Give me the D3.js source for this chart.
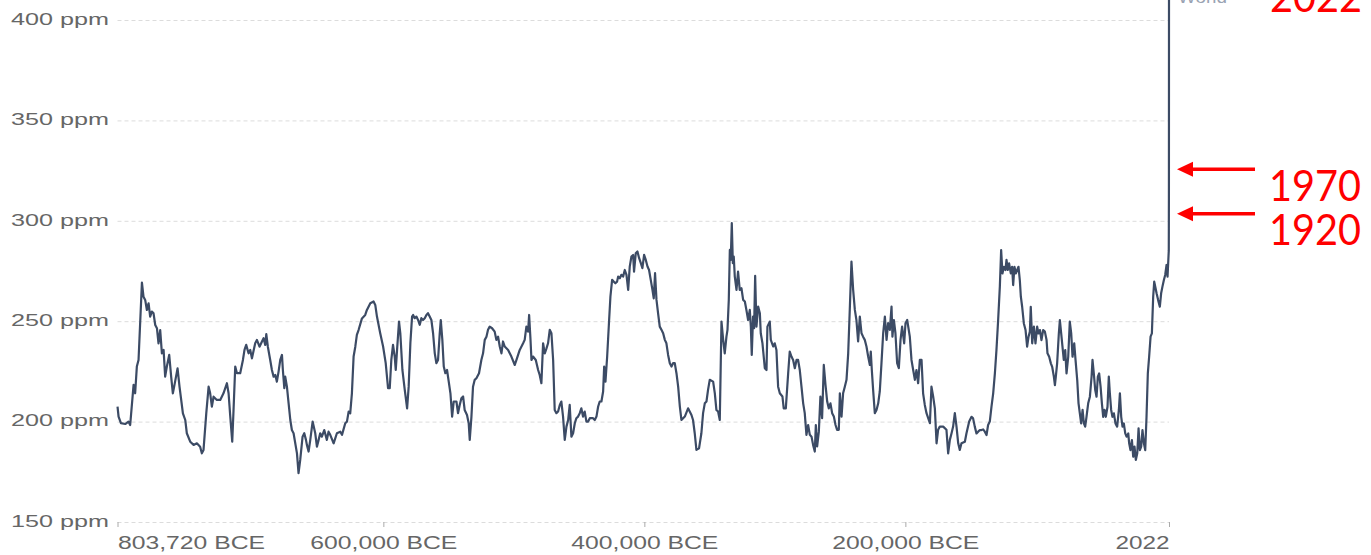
<!DOCTYPE html>
<html>
<head>
<meta charset="utf-8">
<script src="https://cdn.jsdelivr.net/npm/d3@7/dist/d3.min.js"></script>
<style>
	body { margin: 0; background: #fff; }
	svg { display: block; }
</style>
</head>
<body>
<svg id="chart"></svg>
<script>
// CO2 concentration, World (ppm). Years are in thousands, negative = BCE.
var yearK = [
	-803.7,-802.9,-801.1,-797.8,-795.3,-794.0,-791.4,-790.2,-788.9,-787.6,
	-785.0,-783.8,-782.5,-781.2,-779.9,-778.7,-777.4,-776.1,-774.8,-773.5,
	-772.3,-771.0,-769.7,-768.4,-767.2,-765.9,-764.1,-762.6,-761.3,-760.3,
	-757.7,-756.2,-753.6,-751.8,-750.6,-748.0,-745.4,-742.9,-740.4,-739.1,
	-737.8,-735.7,-733.9,-732.7,-731.4,-730.1,-727.6,-725.0,-722.5,-719.9,
	-718.6,-717.3,-715.8,-714.8,-713.5,-712.2,-709.7,-707.6,-706.4,-705.1,
	-703.3,-702.0,-700.7,-698.2,-696.9,-694.9,-693.1,-691.8,-690.5,-689.7,
	-688.5,-686.7,-685.4,-684.1,-682.8,-681.6,-680.3,-679.0,-677.7,-677.0,
	-675.9,-675.2,-673.9,-672.6,-671.3,-670.1,-668.8,-666.2,-665.0,-663.7,
	-661.9,-660.6,-659.3,-658.6,-657.3,-656.0,-654.2,-652.2,-650.9,-649.6,
	-648.4,-647.1,-645.3,-643.3,-642.0,-640.7,-638.1,-635.6,-633.0,-631.7,
	-629.2,-627.9,-626.6,-625.4,-624.1,-622.8,-621.5,-620.3,-619.0,-616.4,
	-613.9,-612.6,-610.0,-607.5,-606.2,-604.9,-602.4,
	-600.2,-598.2,-596.4,-595.1,-593.9,-592.6,-591.3,-590.5,-589.5,-588.0,
	-587.0,-585.4,-583.6,-581.8,-580.6,-579.3,-578.0,-577.2,-576.0,-574.7,
	-573.4,-572.1,-570.9,-569.6,-568.3,-567.0,-565.8,-564.5,-563.2,-561.9,
	-560.6,-559.4,-558.1,-556.8,-556.0,-554.8,-553.7,-552.5,-551.2,-549.9,
	-548.6,-547.3,-546.1,-544.0,-542.8,-541.5,-540.2,-538.9,-537.7,-535.9,
	-534.6,-533.8,-532.5,-531.3,-530.0,-528.7,-526.7,-524.9,-523.6,-522.3,
	-521.0,-519.8,-518.5,-516.7,-514.7,-513.4,-512.1,-510.8,-509.5,-508.3,
	-507.0,-504.4,-501.9,-499.3,-498.0,-495.5,-492.9,-491.7,-490.4,-489.1,
	-488.3,-487.3,-486.5,-485.3,-483.2,-481.4,-480.2,-478.9,-477.6,-476.3,
	-475.0,-473.8,-472.5,-471.2,-469.9,-468.7,-467.4,-466.1,-464.8,-463.6,
	-462.3,-461.0,-459.7,-458.4,-457.2,-455.9,-454.6,-453.3,-452.1,-450.8,
	-449.5,-448.3,-447.0,-445.7,-444.4,-443.1,-441.8,-439.3,-438.0,-436.7,
	-435.4,-434.2,-432.9,-431.6,-430.8,-429.8,-428.5,-427.0,-426.0,-424.7,
	-423.4,-422.2,-420.9,-420.1,-418.8,-417.6,-416.3,-415.0,-413.7,-412.4,
	-411.2,-409.9,-408.6,-407.9,-406.6,-405.3,-404.0,-402.7,-401.5,-400.2,
	-398.9,-397.6,-396.4,-395.1,-393.8,-392.8,-391.8,-390.7,-389.5,-388.2,
	-386.9,-385.6,-384.3,-383.1,-381.8,-380.5,-379.2,-378.0,-376.7,-375.4,
	-374.1,-372.8,
	-371.6,-369.0,-366.5,-363.9,-362.7,-361.4,-360.1,-358.1,-356.3,-355.0,
	-353.7,-352.4,-351.2,-349.9,-347.3,-346.0,-344.8,-343.5,-342.2,-340.9,
	-339.6,-338.4,-337.1,-336.3,-335.3,-334.5,-333.8,-333.0,-332.2,-331.5,
	-330.7,-329.4,-328.2,-326.9,-325.6,-324.3,-323.0,-321.8,-320.5,-319.2,
	-318.4,-317.7,-316.7,-315.9,-315.1,-314.1,-312.8,-311.5,-310.8,-309.5,
	-307.7,-306.4,-305.7,-303.9,-303.1,-301.3,-300.1,-298.8,-297.5,-296.2,
	-294.2,-293.2,-291.6,-289.8,-288.6,-287.3,-286.0,-284.7,-283.4,-282.2,
	-280.9,-279.6,-278.3,-277.1,-275.8,-274.5,-273.2,-271.9,-270.7,-269.4,
	-268.6,-267.6,-266.3,-265.1,-263.8,-262.5,-261.2,-259.9,-258.7,-257.4,
	-256.1,-254.8,-253.5,-252.3,-251.0,-250.2,-248.9,-247.7,-246.4,-245.1,
	-243.8,-242.6,-241.3,-240.0,-238.7,-237.5,-236.2,-234.9,-233.6,-232.4,
	-231.1,-229.8,-228.5,-227.2,-226.5,-225.7,-224.7,-223.4,-222.1,-220.8,
	-219.6,-218.3,-217.0,-215.7,-214.4,-213.2,-211.9,-210.6,-209.9,-208.8,
	-207.6,-206.3,-205.0,-203.7,-202.5,-200.9,-199.9,-198.6,-196.6,-195.3,
	-194.0,-192.7,-191.5,-190.2,-188.9,-187.6,-186.4,-185.1,-183.8,-181.2,
	-180.0,-178.7,-177.4,-176.1,-174.9,-173.6,-171.0,-168.5,-167.2,-165.9,
	-164.6,-163.4,-162.1,-160.8,-159.5,-158.3,
	-157.0,-154.4,-153.2,-151.1,-149.3,-148.1,-146.8,-145.5,-144.2,-142.9,
	-141.7,-140.4,-139.1,-137.8,-136.6,-135.3,-134.0,-132.7,-131.4,-130.2,
	-128.9,-127.6,-126.6,-125.6,-124.5,-123.3,-122.5,-121.5,-120.5,-119.2,
	-118.2,-117.4,-116.4,-115.3,-114.3,-113.3,-112.3,-111.5,-110.5,-109.2,
	-107.9,-106.7,-105.6,-104.6,-103.9,-102.8,-101.5,-100.3,-99.0,-98.0,
	-96.9,-95.7,-94.4,-93.1,-91.8,-91.1,-89.8,-88.5,-87.5,-86.2,
	-85.4,-84.7,-83.7,-82.4,-81.6,-80.6,-79.6,-78.6,-77.5,-76.5,
	-75.2,-74.0,-72.9,-71.9,-70.6,-69.6,-68.3,-67.3,-66.3,-65.3,
	-64.2,-63.2,-62.2,-61.2,-59.9,-58.6,-57.3,-56.6,-55.6,-54.5,
	-53.5,-52.5,-51.5,-50.4,-49.4,-48.4,-47.4,-46.4,-45.1,-44.1,
	-43.3,-42.3,-41.3,-40.2,-39.0,-37.7,-36.4,-35.6,-34.6,-33.6,
	-32.6,-31.5,-30.5,-29.2,-28.5,-27.5,-26.4,-25.4,-24.4,-23.4,
	-22.3,-21.3,-20.3,-19.3,-18.3,-17.2,-16.2,-15.2,-14.2,-13.2,
	-12.1,-11.1,-10.1,-9.3,-8.5,-7.5,-6.3,-5.0,-4.0,-3.0,
	-1.9,-0.9,0.14,0.9,1.75,1.85,1.9,1.92,1.95,1.97,
	1.99,2.0,2.01,2.022
];
var co2 = [
	207.5,202.5,199.2,198.8,200.0,198.3,218.3,214.1,227.4,230.7,
	269.2,262.2,260.6,255.6,258.9,252.3,254.8,253.9,248.1,246.5,
	239.0,245.6,234.0,235.7,222.4,227.4,233.2,222.4,214.1,217.4,
	226.5,217.4,204.1,200.8,194.2,190.0,188.4,189.2,187.5,184.2,
	185.9,204.1,217.4,214.1,207.5,212.4,210.8,210.8,214.1,219.1,
	214.1,202.5,190.0,205.8,227.4,224.1,224.1,230.7,235.7,238.2,
	234.0,235.7,231.5,239.0,240.7,237.3,239.8,241.5,238.2,243.6,
	237.3,230.7,225.7,222.4,223.2,219.9,224.9,230.7,233.2,225.7,
	216.6,222.4,217.4,209.1,200.8,195.8,194.2,184.2,174.3,180.9,
	192.5,194.2,190.9,188.4,185.1,190.9,200.0,194.2,187.5,190.9,
	194.2,192.5,195.8,190.9,195.0,193.4,189.2,194.2,195.0,193.4,
	199.2,200.0,205.0,204.1,214.1,232.4,237.3,243.2,245.6,251.4,
	253.1,255.6,258.9,259.8,258.1,252.3,244.0,
	237.4,229.1,216.6,216.6,230.7,238.2,232.4,225.7,235.7,249.8,
	244.0,225.7,215.8,206.6,217.4,239.0,252.3,253.1,251.5,252.3,
	250.6,248.2,251.5,250.6,251.5,253.1,254.0,252.3,250.6,244.0,
	234.0,229.1,230.7,244.0,250.6,240.7,227.4,224.1,225.7,219.9,
	214.1,202.5,210.0,210.0,204.2,208.3,211.6,212.5,205.8,203.3,
	199.2,190.9,202.5,217.4,220.8,221.6,224.1,230.7,234.0,240.7,
	242.3,245.7,247.3,246.5,244.8,240.7,242.3,237.4,234.0,239.9,
	237.4,235.7,232.4,228.2,230.7,235.7,239.0,240.7,247.3,244.8,
	253.1,241.5,230.7,232.4,230.7,225.7,223.2,219.1,239.0,234.0,
	236.5,239.0,245.7,244.0,230.7,205.8,204.2,205.0,208.3,210.0,
	202.5,190.9,197.5,200.8,208.3,192.5,194.2,199.2,201.7,202.5,
	204.2,206.6,202.5,205.0,200.0,200.0,201.7,201.7,200.8,202.5,
	207.5,210.0,210.0,215.0,227.4,219.9,232.4,250.6,262.3,270.6,
	269.7,268.9,269.7,272.2,271.4,273.1,272.2,275.5,273.1,265.6,
	277.2,282.2,283.0,274.7,283.8,284.7,281.4,278.9,276.4,283.0,
	280.5,277.2,275.5,270.6,265.6,261.4,273.9,260.6,254.0,247.3,
	245.7,244.0,240.7,239.0,233.2,229.1,227.4,229.1,229.1,224.1,
	217.4,207.5,
	200.8,202.5,206.6,203.3,200.8,194.2,185.9,186.7,194.2,204.2,
	209.1,210.0,215.8,220.8,219.9,214.1,205.8,205.0,200.8,249.8,
	240.7,234.0,242.3,245.7,260.6,285.5,280.5,298.8,278.9,282.2,
	272.2,265.6,274.7,265.6,266.4,260.6,259.8,255.6,250.6,255.6,
	247.3,233.2,252.3,246.5,272.6,247.3,257.3,254.0,244.0,239.0,
	226.6,225.7,247.3,249.8,240.7,237.4,239.0,235.7,217.4,214.1,
	212.5,206.6,206.6,224.1,234.9,232.4,230.7,226.6,230.7,230.7,
	225.7,217.4,209.1,204.2,193.4,198.3,193.4,192.5,188.4,185.1,
	198.3,187.6,195.0,212.5,201.7,228.2,218.3,210.0,206.6,209.1,
	204.2,202.5,198.3,195.9,195.9,214.1,202.5,214.1,217.4,220.8,
	234.0,255.6,279.7,265.6,255.6,250.6,239.9,252.3,244.0,242.3,
	240.7,237.4,232.4,228.2,234.9,225.7,215.8,204.2,205.8,209.1,
	215.0,229.1,244.0,252.3,240.7,249.0,245.7,257.3,242.3,250.6,
	244.0,229.1,226.6,240.7,247.3,239.0,249.0,250.6,242.3,230.7,
	225.7,220.8,225.7,219.1,230.7,230.7,214.1,208.3,204.2,199.2,
	217.4,212.5,206.6,189.2,195.9,197.5,197.5,195.9,184.2,190.9,
	194.2,197.5,204.2,197.5,189.2,185.9,
	189.2,190.0,194.1,200.0,202.4,201.6,197.5,194.1,195.0,195.8,
	195.8,196.1,195.0,193.3,198.3,200.0,207.4,214.1,224.0,235.6,
	250.6,267.2,285.4,273.8,277.1,275.5,280.5,275.5,278.8,273.8,
	277.1,268.0,277.1,273.8,275.5,277.1,270.5,262.2,257.2,248.9,
	245.6,237.3,242.3,244.8,257.2,239.0,247.3,239.0,247.3,243.9,
	245.6,240.6,245.6,244.8,240.6,234.0,232.3,229.0,227.3,222.4,
	218.2,222.4,229.0,243.9,250.6,243.9,237.3,230.7,235.6,224.0,
	232.3,249.8,243.9,232.3,239.0,230.7,220.7,209.1,204.1,199.1,
	205.8,199.1,197.5,202.4,209.1,212.4,222.4,230.7,224.0,215.7,
	212.4,222.4,224.0,217.4,209.1,202.4,205.8,202.4,207.4,222.4,
	214.1,205.8,202.4,204.1,199.1,197.5,205.8,214.1,202.4,197.5,
	199.1,194.1,192.5,194.1,189.2,185.8,190.8,182.5,187.5,180.9,
	184.2,196.6,185.8,187.5,195.8,189.2,185.8,202.4,224.0,232.3,
	242.3,243.9,262.2,269.7,267.2,263.9,260.5,257.2,263.9,267.2,
	270.5,273.0,278.0,272.2,283.8,285.0,296.0,303.5,311.0,325.7,
	354.0,369.0,389.0,417.0
];

var yTicks = [150, 200, 250, 300, 350, 400];
var xTicks = [-803720, -600000, -400000, -200000, 2022];
var xTickLabels = ["803,720 BCE", "600,000 BCE", "400,000 BCE", "200,000 BCE", "2022"];
var seriesName = "World";
var noteYears = [1970, 1920];
var endYearLabel = "2022";

var width = 1371, height = 555;
var margin = { top: 20, right: 202, bottom: 33, left: 117.5 };
var labelFont = "'Liberation Sans', Arial, Helvetica, sans-serif";
var red = "#ff0000";

var svg = d3.select("#chart")
	.attr("width", width)
	.attr("height", height);

var x = d3.scaleLinear()
	.domain([xTicks[0], xTicks[xTicks.length - 1]])
	.range([margin.left, width - margin.right]);
var y = d3.scaleLinear()
	.domain([150, 400])
	.range([height - margin.bottom, margin.top]);

// y axis + dashed gridlines
svg.append("g")
	.attr("transform", "translate(" + margin.left + ",0)")
	.call(d3.axisLeft(y).tickValues(yTicks).tickSize(-(width - margin.right - margin.left)).tickFormat(function(d) { return d + " ppm"; }))
	.call(function(g) { g.select(".domain").remove(); })
	.call(function(g) {
		g.selectAll(".tick line")
			.attr("stroke", "#dcdcdc")
			.attr("stroke-dasharray", "4,3");
		g.selectAll(".tick text")
			.attr("x", -106.5)
			.attr("dy", "0.26em")
			.attr("text-anchor", "start")
			.attr("textLength", 98)
			.attr("lengthAdjust", "spacingAndGlyphs")
			.attr("fill", "#666")
			.style("font-family", labelFont)
			.style("font-size", "16.8px");
	});

// x axis
svg.append("g")
	.attr("transform", "translate(0," + (height - margin.bottom) + ")")
	.call(d3.axisBottom(x).tickValues(xTicks).tickSize(5).tickFormat(function(d, i) { return xTickLabels[i]; }))
	.call(function(g) { g.select(".domain").remove(); })
	.call(function(g) {
		g.selectAll(".tick line").attr("stroke", "#aaa");
		g.selectAll(".tick text")
			.attr("y", 27)
			.attr("dy", 0)
			.attr("fill", "#666")
			.attr("text-anchor", function(d, i) { return i == 0 ? "start" : (i == xTicks.length - 1 ? "end" : "middle"); })
			.attr("textLength", function(d, i) { return i == xTicks.length - 1 ? 54 : 147; })
			.attr("lengthAdjust", "spacingAndGlyphs")
			.style("font-family", labelFont)
			.style("font-size", "18.5px");
	});

// the series
var line = d3.line()
	.x(function(d, i) { return x(yearK[i] * 1000); })
	.y(function(d, i) { return y(co2[i]); });

svg.append("path")
	.datum(co2)
	.attr("fill", "none")
	.attr("stroke", "#3c4b65")
	.attr("stroke-width", 2.2)
	.attr("stroke-linejoin", "round")
	.attr("d", line);

var xEnd = x(xTicks[xTicks.length - 1]);
var lastVal = co2[co2.length - 1];

svg.append("text")
	.attr("x", xEnd + 9)
	.attr("y", y(lastVal) + 17)
	.attr("fill", "#9aa3b3")
	.attr("textLength", 49)
	.attr("lengthAdjust", "spacingAndGlyphs")
	.style("font-family", labelFont)
	.style("font-size", "17px")
	.text(seriesName);

// red annotations
function valueAt(year) {
	var k = year / 1000;
	var i = d3.bisectLeft(yearK, k);
	if (i <= 0) return co2[0];
	var t = (k - yearK[i - 1]) / (yearK[i] - yearK[i - 1]);
	return co2[i - 1] + t * (co2[i] - co2[i - 1]);
}

var notes = svg.append("g");
noteYears.forEach(function(yr) {
	var ay = y(valueAt(yr));
	var tip = xEnd + 8;
	notes.append("line")
		.attr("x1", tip + 14).attr("x2", tip + 78)
		.attr("y1", ay).attr("y2", ay)
		.attr("stroke", red)
		.attr("stroke-width", 3.5);
	notes.append("path")
		.attr("d", "M" + tip + "," + ay + "L" + (tip + 16) + "," + (ay - 7.5) + "L" + (tip + 16) + "," + (ay + 7.5) + "Z")
		.attr("fill", red);
	notes.append("text")
		.attr("x", tip + 92)
		.attr("y", ay + 31.5)
		.attr("fill", red)
		.attr("textLength", 92)
		.attr("lengthAdjust", "spacingAndGlyphs")
		.style("font-family", "Lato, 'Open Sans', sans-serif")
		.style("font-size", "42px")
		.text(yr);
});

notes.append("text")
	.attr("x", xEnd + 101)
	.attr("y", y(lastVal) + 26)
	.attr("fill", red)
	.attr("textLength", 92)
	.attr("lengthAdjust", "spacingAndGlyphs")
	.style("font-family", "Lato, 'Open Sans', sans-serif")
	.style("font-size", "42px")
	.text(endYearLabel);
</script>
</body>
</html>
